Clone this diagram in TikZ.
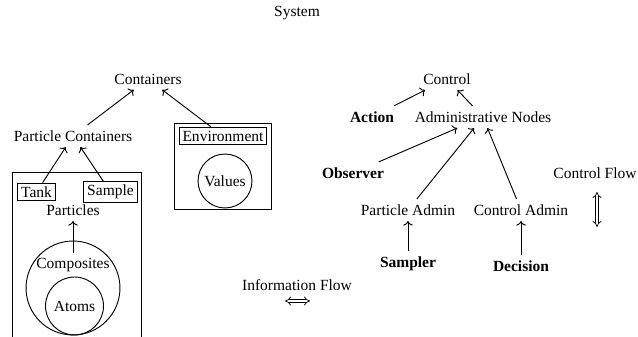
\documentclass[tikz,border=0pt]{standalone}
\usepackage{fontspec}
\setmainfont{Liberation Serif}
\usetikzlibrary{arrows.meta}

\begin{document}
\begin{tikzpicture}[x=0.645pt,y=-0.645pt,line width=0.6pt]
            \tikzset{
                boxed/.style={draw,inner sep=2.2pt},
                ring/.style={draw,circle,inner sep=0pt},
                agent/.style={font=\bfseries},
                link/.style={->},
                legendarrow/.style={double,double distance=1.6pt,line width=0.45pt,{Implies}-{Implies}},}
            \useasboundingbox (0,0) rectangle (638,337);
            \clip (0,0) rectangle (638,337);
            \node (system) at (297,13) {System};
            % containers side
            \node (containers) at (148,79) {Containers};
            \node (partcont) at (73,136) {Particle Containers};
            \draw (12,172) rectangle (141,350);
            \node[boxed] (tank) at (36.5,192) {Tank};
            \node[boxed] (sample) at (110.5,192) {Sample};
            \node (particles) at (73,210) {Particles};
            \node[ring,minimum size=60.6pt] (compring) at (73,288) {};
            \node (composites) at (73,265) {Composites};
            \node[ring,minimum size=37.4pt] (atoms) at (74.5,306) {Atoms};
            \draw (174,123) rectangle (271,209);
            \node[boxed] (environment) at (223,136) {Environment};
            \node[ring,minimum size=34.8pt] (values) at (225,181) {Values};
            \draw[link] (partcont) -- (containers);
            \draw[link] (environment) -- (containers);
            \draw[link] (tank) -- (partcont);
            \draw[link] (sample) -- (partcont);
            \draw[link] (composites) -- (particles);
            % control side
            \node (control) at (447,79) {Control};
            \node[agent] (action) at (372,117) {Action};
            \node (adm) at (483,117) {Administrative Nodes};
            \node[agent] (observer) at (353,173) {Observer};
            \node (partadmin) at (408,210) {Particle Admin};
            \node (ctrladmin) at (521,210) {Control Admin};
            \node[agent] (sampler) at (408,264) {Sampler};
            \node[agent] (decision) at (521,266) {Decision};
            \draw[link] (action) -- (control);
            \draw[link] (adm) -- (control);
            \draw[link] (observer) -- (adm);
            \draw[link] (partadmin) -- (adm);
            \draw[link] (ctrladmin) -- (adm);
            \draw[link] (sampler) -- (partadmin);
            \draw[link] (decision) -- (ctrladmin);
            % legend
            \node (ctrlflow) at (595,173) {Control Flow};
            \coordinate (cfup) at (597,192);
            \coordinate (cfdown) at (597,227);
            \draw[legendarrow] (cfup) -- (cfdown);
            \node (infoflow) at (297,285) {Information Flow};
            \coordinate (ifleft) at (285,301);
            \coordinate (ifright) at (310,301);
            \draw[legendarrow] (ifleft) -- (ifright);
        \end{tikzpicture}
\end{document}
